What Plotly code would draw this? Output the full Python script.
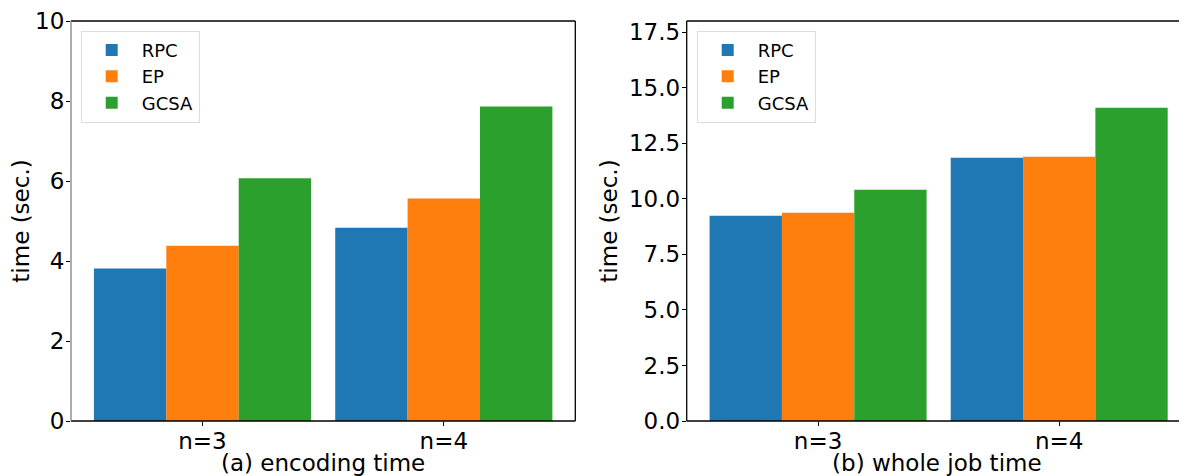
import plotly.graph_objects as go

categories = ["n=3", "n=4"]
series = ["RPC", "EP", "GCSA"]
colors = ["#1f77b4", "#ff7f0e", "#2ca02c"]
encoding_time = {"RPC": [3.81, 4.83], "EP": [4.38, 5.56], "GCSA": [6.07, 7.86]}
whole_job_time = {"RPC": [9.24, 11.85], "EP": [9.37, 11.89], "GCSA": [10.41, 14.1]}
left_yticks = [0, 2, 4, 6, 8, 10]
right_yticks = [0.0, 2.5, 5.0, 7.5, 10.0, 12.5, 15.0, 17.5]

FONT = "DejaVu Sans"
FS = 23
OFF = 8  # page body margin
W, H = 1187 - OFF, 476 - OFF

def px(x):
    return (x - OFF) / W

fig = go.Figure()
for name, col in zip(series, colors):
    fig.add_trace(go.Bar(x=categories, y=encoding_time[name], name=name,
                         marker=dict(color=col, line=dict(width=0)),
                         xaxis="x", yaxis="y", legend="legend"))
for name, col in zip(series, colors):
    fig.add_trace(go.Bar(x=categories, y=whole_job_time[name], name=name,
                         marker=dict(color=col, line=dict(width=0)),
                         xaxis="x2", yaxis="y2", legend="legend2"))

tickfont = dict(family=FONT, size=FS, color="black")
axis_common = dict(showgrid=False, zeroline=False, showline=False,
                   ticks="outside", ticklen=4, tickcolor="black",
                   tickfont=tickfont)

top_px, bot_px = 21.3, 421.3
plot_h = bot_px - top_px
legend_y = (bot_px - 31) / plot_h

legend_common = dict(bgcolor="white", bordercolor="#dddddd", borderwidth=1,
                     font=dict(family=FONT, size=18, color="black"),
                     xanchor="left", yanchor="top", itemwidth=50,
                     tracegroupgap=0)

fig.update_layout(
    width=W, height=H,
    margin=dict(l=0, r=0, t=top_px - OFF, b=476 - bot_px),
    plot_bgcolor="white", paper_bgcolor="white",
    barmode="group", bargap=0.1, bargroupgap=0,
    font=dict(family=FONT, size=FS, color="black"),
    xaxis=dict(domain=[px(71), px(575.3)], range=[-0.545, 1.545], anchor="y",
               ticklabelstandoff=-5,
               title=dict(text="(a) encoding time", font=dict(family=FONT, size=FS), standoff=1),
               **axis_common),
    yaxis=dict(domain=[0, 1], range=[0, 10], anchor="x", tickvals=left_yticks,
               ticktext=[str(v) for v in left_yticks], ticklabelstandoff=-3,
               title=dict(text="time (sec.)", font=dict(family=FONT, size=FS), standoff=4),
               **axis_common),
    xaxis2=dict(domain=[px(686.7), 1.0], range=[-0.545, 1.53], anchor="y2",
                ticklabelstandoff=-5,
                title=dict(text="(b) whole job time", font=dict(family=FONT, size=FS), standoff=1),
                **axis_common),
    yaxis2=dict(domain=[0, 1], range=[0, 18], anchor="x2", tickvals=right_yticks,
                ticktext=[f"{v:.1f}" for v in right_yticks], ticklabelstandoff=-3,
                title=dict(text="time (sec.)", font=dict(family=FONT, size=FS), standoff=4),
                **axis_common),
    legend=dict(x=px(80.7), y=legend_y, **legend_common),
    legend2=dict(x=px(696.7), y=legend_y, **legend_common),
    showlegend=True,
)

frame = []
for (x0, y0, x1, y1, c) in [(0, 1, 1, 1, "black"), (1, 0, 1, 1, "black"),
                             (0, 0, 1, 0, "black"), (0, 0, 0, 1, "#808080")]:
    frame.append(dict(type="line", xref="x domain", yref="y domain",
                      x0=x0, y0=y0, x1=x1, y1=y1,
                      line=dict(color=c, width=1.3)))
for (x0, y0, x1, y1) in [(0, 1, 1, 1), (0, 0, 1, 0), (0, 0, 0, 1)]:
    frame.append(dict(type="line", xref="x2 domain", yref="y2 domain",
                      x0=x0, y0=y0, x1=x1, y1=y1,
                      line=dict(color="black", width=1.3)))
fig.update_layout(shapes=frame)

fig.write_html("out.html")
